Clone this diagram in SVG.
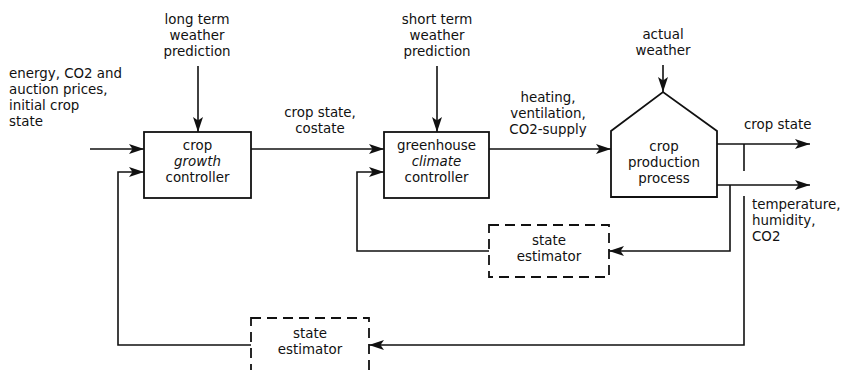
<svg xmlns="http://www.w3.org/2000/svg" width="852" height="370" viewBox="0 0 852 370">
<style>
text{font-family:"DejaVu Sans","Liberation Sans",sans-serif;font-size:13.4px;fill:#111}
.c{text-anchor:middle}
.i{font-style:italic}
.box{fill:#fff;stroke:#111;stroke-width:1.8}
.dash{fill:#fff;stroke:#111;stroke-width:1.8;stroke-dasharray:10 6}
.ln{fill:none;stroke:#111;stroke-width:1.6}
.ar{fill:none;stroke:#111;stroke-width:1.6;marker-end:url(#ah)}
</style>
<defs>
<marker id="ah" viewBox="0 0 15 10" refX="15" refY="5" markerWidth="15" markerHeight="10" orient="auto" markerUnits="userSpaceOnUse">
<path d="M0,0 L15,5 L0,10 L3.5,5 z" fill="#111"/>
</marker>
</defs>
<rect width="852" height="370" fill="#fff"/>
<g id="connectors">
<path class="ar" d="M90,149 H144"/>
<path class="ar" d="M198,66 V132"/>
<path class="ar" d="M251,149 H384"/>
<path class="ar" d="M437,66 V132"/>
<path class="ar" d="M489,149 H611"/>
<path class="ar" d="M663,65 V92"/>
<path class="ar" d="M717,144 H810"/>
<path class="ar" d="M717,185 H810"/>
<path class="ar" d="M730,185 V251 H609"/>
<path class="ar" d="M489,251 H357 V172 H384"/>
<path class="ln" d="M744,144 V171"/>
<path class="ar" d="M744,196 V345 H369"/>
<path class="ar" d="M251,345 H118 V172 H144"/>
</g>
<g id="input-label">
<text x="9" y="78">energy, CO2 and</text>
<text x="9" y="94">auction prices,</text>
<text x="9" y="110">initial crop</text>
<text x="9" y="126">state</text>
</g>
<g id="long-term-label">
<text class="c" x="197" y="24">long term</text>
<text class="c" x="197" y="40">weather</text>
<text class="c" x="197" y="56">prediction</text>
</g>
<g id="short-term-label">
<text class="c" x="437" y="24">short term</text>
<text class="c" x="437" y="40">weather</text>
<text class="c" x="437" y="56">prediction</text>
</g>
<g id="actual-weather-label">
<text class="c" x="663" y="39">actual</text>
<text class="c" x="663" y="55">weather</text>
</g>
<g id="costate-label">
<text class="c" x="320" y="117">crop state,</text>
<text class="c" x="320" y="133">costate</text>
</g>
<g id="heating-label">
<text class="c" x="548" y="102">heating,</text>
<text class="c" x="548" y="118">ventilation,</text>
<text class="c" x="548" y="134">CO2-supply</text>
</g>
<g id="crop-state-label">
<text x="744" y="129">crop state</text>
</g>
<g id="temperature-label">
<text x="752" y="209">temperature,</text>
<text x="752" y="225">humidity,</text>
<text x="752" y="241">CO2</text>
</g>
<g id="crop-growth-controller">
<rect class="box" x="144" y="132" width="107" height="66"/>
<text class="c" x="197.5" y="150">crop</text>
<text class="c i" x="197.5" y="166">growth</text>
<text class="c" x="197.5" y="182">controller</text>
</g>
<g id="greenhouse-climate-controller">
<rect class="box" x="384" y="132" width="105" height="66"/>
<text class="c" x="436.5" y="150">greenhouse</text>
<text class="c i" x="436.5" y="166">climate</text>
<text class="c" x="436.5" y="182">controller</text>
</g>
<g id="crop-production-process">
<path class="box" d="M611,197 V131 L663,92 L717,131 V197 Z"/>
<text class="c" x="664" y="151">crop</text>
<text class="c" x="664" y="167">production</text>
<text class="c" x="664" y="183">process</text>
</g>
<g id="state-estimator-upper">
<rect class="dash" x="489" y="225" width="120" height="52"/>
<text class="c" x="549" y="245">state</text>
<text class="c" x="549" y="261">estimator</text>
</g>
<g id="state-estimator-lower">
<rect class="dash" x="251" y="318" width="118" height="62"/>
<text class="c" x="310" y="338">state</text>
<text class="c" x="310" y="354">estimator</text>
</g>
</svg>
